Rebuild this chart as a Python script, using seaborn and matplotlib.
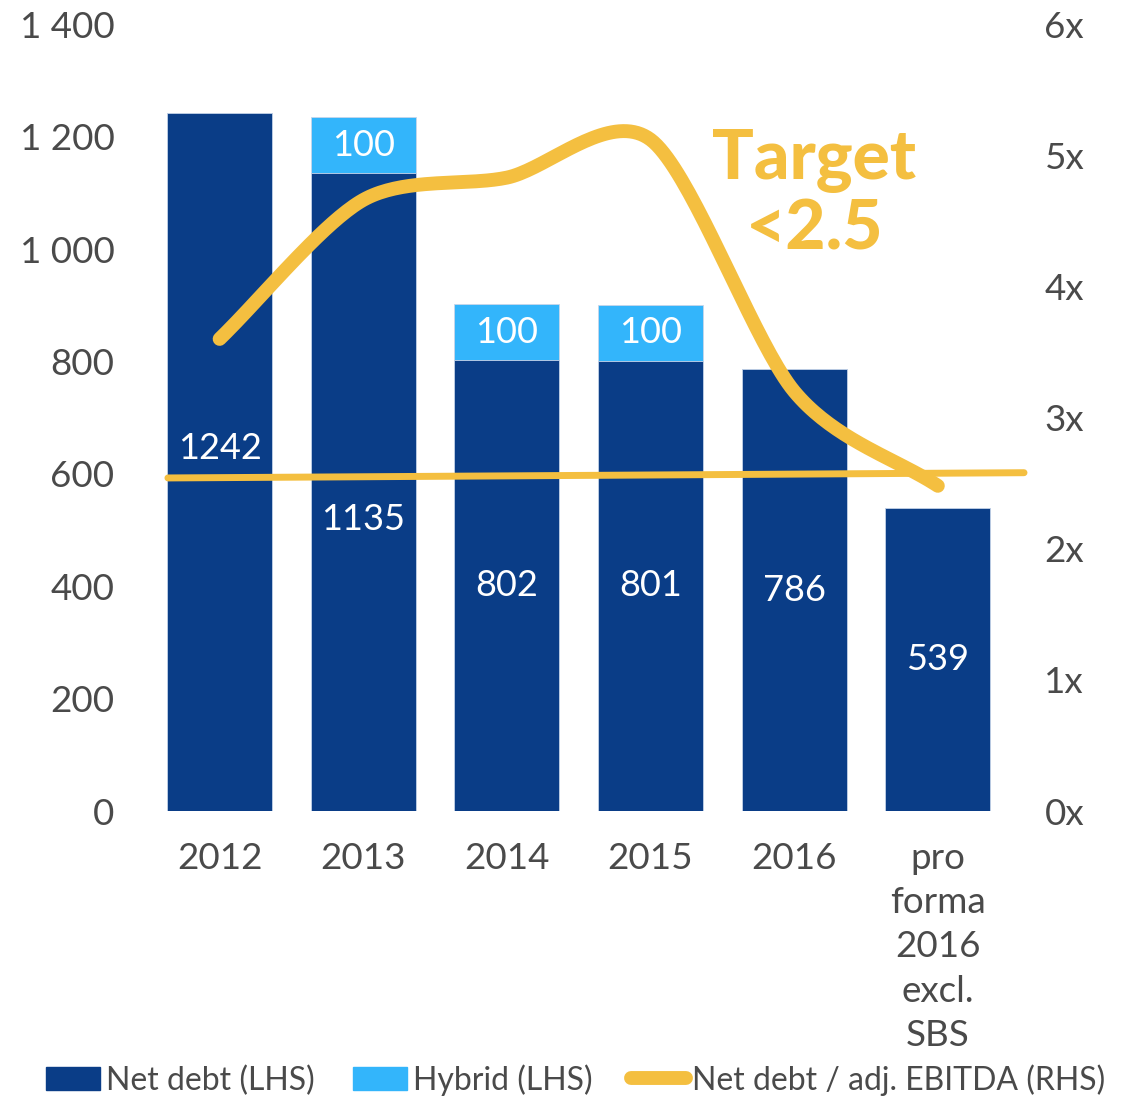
import numpy as np
import pandas as pd
import matplotlib
matplotlib.use("Agg")
import matplotlib.pyplot as plt
import seaborn as sns
from matplotlib.patches import Patch
from matplotlib.lines import Line2D

# data
categories = ["2012", "2013", "2014", "2015", "2016", "pro\nforma\n2016\nexcl.\nSBS"]
net_debt = [1242, 1135, 802, 801, 786, 539]
hybrid = [0, 100, 100, 100, 0, 0]
leverage = [3.6, 4.66, 4.83, 5.12, 3.2, 2.48]
target_ratio = 2.56

NAVY = "#0a3d87"
LIGHT = "#33b5fb"
YELLOW = "#f4bf40"
GREY = "#4a4a4a"

sns.set_theme(style="white")
plt.rcParams["font.family"] = ["Lato", "DejaVu Sans"]

df = pd.DataFrame({"cat": categories, "net": net_debt, "hyb": hybrid})
df["total"] = df["net"] + df["hyb"]

fig = plt.figure(figsize=(11.37, 10.99), dpi=100)
ax = fig.add_axes([0.130, 0.262, 0.758, 0.716])

# stacked bars: total in light blue, net debt drawn on top
sns.barplot(data=df, x="cat", y="total", color=LIGHT, width=0.73, saturation=1,
            edgecolor="#c9d6ea", linewidth=0.6, ax=ax)
sns.barplot(data=df, x="cat", y="net", color=NAVY, width=0.73, saturation=1,
            edgecolor="#c9d6ea", linewidth=0.6, ax=ax)

ax.set_ylim(0, 1400)
ax.set_xlim(-0.5, 5.5)
ax.set_yticks(range(0, 1401, 200))
ax.set_yticklabels([f"{v:,}".replace(",", " ") for v in range(0, 1401, 200)])
ax.set_xlabel("")
ax.set_ylabel("")
ax.tick_params(axis="y", labelsize=26.5, colors=GREY, pad=24, length=0)
ax.tick_params(axis="x", labelsize=26.5, colors=GREY, pad=22, length=0)
for t in ax.get_xticklabels():
    t.set_linespacing(1.42)
    t.set_verticalalignment("top")
sns.despine(ax=ax, left=True, bottom=True)

# value labels (first two shifted to stay clear of the lines)
label_shift = [0.52, 0.457, 0.5, 0.5, 0.5, 0.5]
for i, (n, h) in enumerate(zip(net_debt, hybrid)):
    ax.text(i, n * label_shift[i], str(n), ha="center", va="center",
            color="white", fontsize=26)
    if h:
        ax.text(i, n + h / 2, str(h), ha="center", va="center",
                color="white", fontsize=26)

# right axis: leverage ratio
ax2 = ax.twinx()
ax2.set_ylim(0, 6)
ax2.set_yticks(range(0, 7))
ax2.set_yticklabels([f"{v}x" for v in range(0, 7)])
ax2.tick_params(axis="y", labelsize=26.5, colors=GREY, pad=25, length=0)
sns.despine(ax=ax2, left=True, bottom=True, right=True)
ax2.grid(False)
ax.grid(False)

# smooth curve through the ratio points (cardinal spline, for drawing only)
pts = np.array([[i, v] for i, v in enumerate(leverage)], dtype=float)
tang = np.zeros_like(pts)
tang[1:-1] = (pts[2:] - pts[:-2]) / 2
tang[0] = pts[1] - pts[0]
tang[-1] = pts[-1] - pts[-2]
tang *= 0.85
curve = []
for k in range(len(pts) - 1):
    p1, p2, m1, m2 = pts[k], pts[k + 1], tang[k], tang[k + 1]
    for t in np.linspace(0, 1, 40):
        h00 = 2 * t ** 3 - 3 * t ** 2 + 1
        h10 = t ** 3 - 2 * t ** 2 + t
        h01 = -2 * t ** 3 + 3 * t ** 2
        h11 = t ** 3 - t ** 2
        curve.append(h00 * p1 + h10 * m1 + h01 * p2 + h11 * m2)
curve = np.array(curve)
ax2.plot(curve[:, 0], curve[:, 1], color=YELLOW, lw=10, solid_capstyle="round", zorder=5)

# target line
ax2.plot([-0.36, 5.6], [target_ratio - 0.02, target_ratio + 0.02], color=YELLOW, lw=5,
         clip_on=False, zorder=4)
ax2.text(4.14, 4.82, "Target", ha="center", va="baseline", color=YELLOW,
         fontsize=50, fontweight="black")
ax2.text(4.14, 4.28, "<2.5", ha="center", va="baseline", color=YELLOW,
         fontsize=50, fontweight="black")

# legend
handles = [Patch(color=NAVY), Patch(color=LIGHT),
           Line2D([0], [0], color=YELLOW, lw=10, solid_capstyle="round")]
labels = ["Net debt (LHS)", "Hybrid (LHS)", "Net debt / adj. EBITDA (RHS)"]
fig.legend(handles, labels, loc="center", bbox_to_anchor=(0.506, 0.0173),
           ncol=3, frameon=False, fontsize=23, labelcolor=GREY,
           handlelength=1.7, handletextpad=0.19, columnspacing=1.2,
           handleheight=0.75, borderpad=0)

fig.savefig("out.png", dpi=100)
